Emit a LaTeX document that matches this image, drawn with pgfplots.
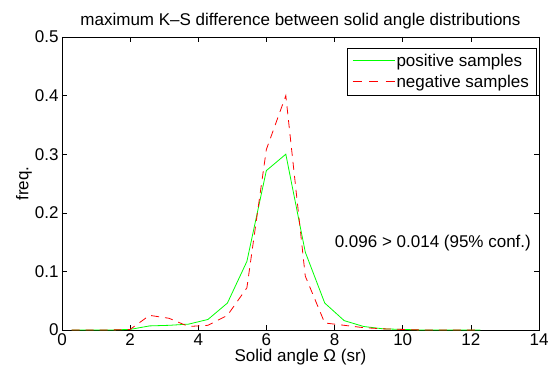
\documentclass[border=0pt]{standalone}
\usepackage{fontspec}
\setmainfont{Liberation Sans}
\usepackage{pgfplots}
\pgfplotsset{compat=1.18}
\definecolor{pgreen}{RGB}{0,255,0}
\definecolor{pred}{RGB}{255,0,0}
\newcommand{\fs}{\fontsize{17}{20}\selectfont}
\newcommand{\dsh}{\rule[-0.4pt]{9pt}{0.8pt}\hspace{7.5pt}}
\begin{document}
\begin{tikzpicture}
\begin{axis}[
  name=ax,
  scale only axis,
  width=477pt, height=293pt,
  xmin=0, xmax=14, ymin=0, ymax=0.5,
  xtick={0,2,...,14}, ytick={0,0.1,...,0.5},
  tick align=inside,
  xtick pos=both, ytick pos=both,
  major tick length=5pt,
  every tick/.style={black, line width=0.6pt},
  axis line style={black, line width=0.8pt},
  /pgf/number format/assume math mode=true,
  tick label style={font=\fs},
  label style={font=\fs},
  title style={font=\fs, yshift=-2pt},
  title={maximum K\textendash S difference between solid angle distributions},
  xlabel={Solid angle Ω (sr)},
  ylabel={freq.},
  xlabel style={yshift=3pt},
  ylabel style={yshift=-4pt},
  legend style={at={(1,1)}, anchor=north east, xshift=-3pt, yshift=-11pt,
    inner xsep=5pt, inner ysep=4pt, row sep=3pt, nodes={font=\fs}},
  legend cell align=left,
]
\addplot[color=pgreen, line width=0.8pt,
  legend image code/.code={\node[anchor=west, inner sep=0pt, text=pgreen] at (0pt,0pt) {\rule[-0.4pt]{42pt}{0.8pt}};}]
  coordinates {
(0.2856,0) (0.8568,0) (1.4280,0) (1.9992,0.001) (2.5704,0.007) (3.1416,0.008)
(3.7128,0.010) (4.2840,0.018) (4.8552,0.046) (5.4264,0.117) (5.9976,0.272)
(6.5688,0.300) (7.1400,0.133) (7.7112,0.046) (8.2824,0.016) (8.8536,0.006)
(9.4248,0.002) (9.9960,0.001) (10.5672,0) (11.1384,0) (11.7096,0) (12.2808,0)
};
\addlegendentry{positive samples}
\addplot[color=pred, line width=0.8pt, dash pattern=on 8pt off 6pt,
  legend image code/.code={\node[anchor=west, inner sep=0pt, text=pred] at (0pt,0pt) {\dsh\dsh\rule[-0.4pt]{9pt}{0.8pt}};}]
  coordinates {
(0.2856,0) (0.8568,0) (1.4280,0) (1.9992,0.001) (2.5704,0.025) (3.1416,0.020)
(3.7128,0.006) (4.2840,0.008) (4.8552,0.025) (5.4264,0.072) (5.9976,0.308)
(6.5688,0.400) (7.1400,0.092) (7.7112,0.012) (8.2824,0.008) (8.8536,0.004)
(9.4248,0.002) (9.9960,0.001) (10.5672,0) (11.1384,0) (11.7096,0) (12.2808,0)
};
\addlegendentry{negative samples}
\node[anchor=west, font=\fs, inner sep=0pt] at (axis cs:8.0,0.149) {0.096 > 0.014 (95\% conf.)};
\end{axis}
\pgfresetboundingbox
\path[use as bounding box] ([shift={(-62pt,-43pt)}]ax.south west) rectangle ([shift={(12pt,37pt)}]ax.north east);
\end{tikzpicture}
\end{document}
